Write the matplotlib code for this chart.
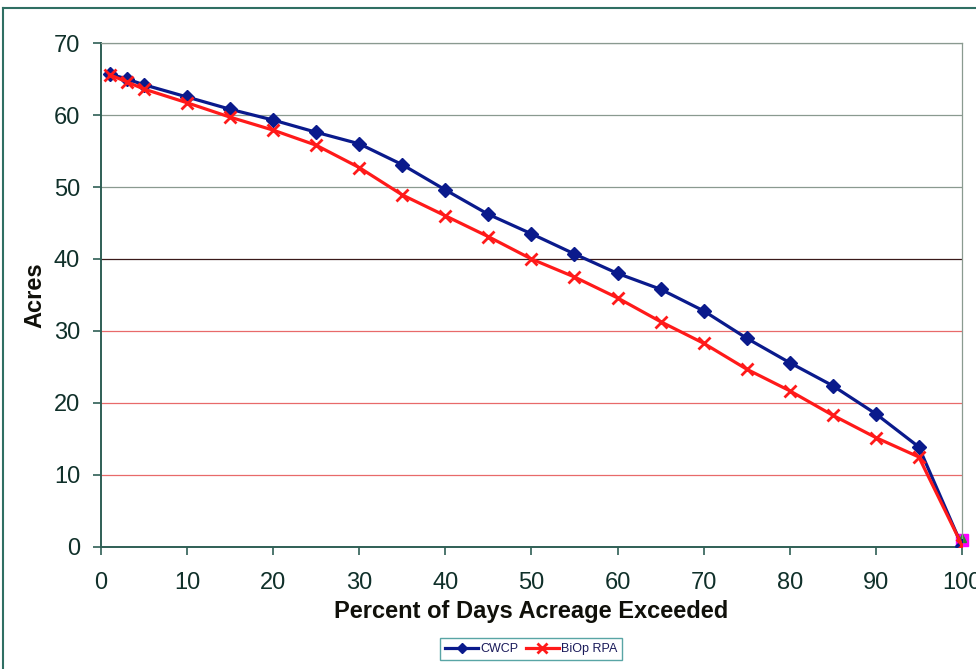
import matplotlib
matplotlib.use("Agg")
import matplotlib.pyplot as plt
from matplotlib.lines import Line2D

plt.rcParams["font.family"] = ["Liberation Sans", "DejaVu Sans"]

# ---------------------------------------------------------------------------
# Data
# ---------------------------------------------------------------------------
pct_days = [1, 3, 5, 10, 15, 20, 25, 30, 35, 40, 45, 50, 55, 60, 65, 70,
            75, 80, 85, 90, 95, 100]
cwcp = [65.7, 65.0, 64.2, 62.5, 60.8, 59.3, 57.6, 56.0, 53.1, 49.6, 46.2,
        43.5, 40.7, 38.0, 35.8, 32.8, 29.0, 25.6, 22.4, 18.5, 13.9, 0.2]
biop_rpa = [65.6, 64.6, 63.6, 61.7, 59.7, 57.9, 55.8, 52.7, 48.9, 46.0, 43.1,
            40.0, 37.5, 34.6, 31.3, 28.3, 24.7, 21.7, 18.3, 15.2, 12.5, 0.3]
extra_x = [100]
extra_sq = [1.0]
extra_tri = [1.2]

x_ticks = list(range(0, 101, 10))
y_ticks = list(range(0, 71, 10))

# ---------------------------------------------------------------------------
# Figure
# ---------------------------------------------------------------------------
fig = plt.figure(figsize=(9.76, 6.69), dpi=100)
# outer chart border (only top and left edges show in the original)
fig.lines.append(Line2D([0.003, 1.0], [0.988, 0.988], transform=fig.transFigure,
                        color="#2f6f63", linewidth=1.5))
fig.lines.append(Line2D([0.003, 0.003], [0.0, 0.988], transform=fig.transFigure,
                        color="#2f6f63", linewidth=1.5))

ax = fig.add_axes([0.1035, 0.1824, 0.882, 0.7533])

# horizontal gridlines, coloured as in the original
for y in y_ticks[1:]:
    if y > 40:
        c = "#8a9a90"
    elif y == 40:
        c = "#3a1a1a"
    else:
        c = "#e86a6a"
    ax.axhline(y, color=c, linewidth=0.9, zorder=1)

ax.plot(pct_days, cwcp, color="#0a1a8c", linewidth=2.3, marker="D",
        markersize=7, label="CWCP", zorder=3)
ax.plot(pct_days, biop_rpa, color="#ff1a1a", linewidth=2.3, marker="x",
        markersize=9, markeredgewidth=2, label="BiOp RPA", zorder=4)
ax.plot(extra_x, extra_sq, linestyle="none", marker="s", markersize=8,
        color="#ff00ff", zorder=2, clip_on=False)
ax.plot(extra_x, extra_tri, linestyle="none", marker="^", markersize=6,
        color="#2a8a2a", zorder=2, clip_on=False)

ax.set_xlim(0, 100)
ax.set_ylim(0, 70)
ax.set_xticks(x_ticks)
ax.set_yticks(y_ticks)
ax.tick_params(axis="both", labelsize=17, direction="out", length=6,
               color="#2f5f55", width=1.2, labelcolor="#10302a")
ax.tick_params(axis="x", pad=12)
ax.tick_params(axis="y", pad=9)
for side in ["left", "bottom"]:
    ax.spines[side].set_color("#2f5f55")
    ax.spines[side].set_linewidth(1.4)
for side in ["top", "right"]:
    ax.spines[side].set_color("#8a9a90")
    ax.spines[side].set_linewidth(0.9)

ax.set_xlabel("Percent of Days Acreage Exceeded", fontsize=17,
              fontweight="bold", labelpad=4, color="#10100a")
ax.set_ylabel("Acres", fontsize=17, fontweight="bold", labelpad=5,
              color="#10100a")

leg = ax.legend(loc="upper center", bbox_to_anchor=(0.5, -0.168), ncol=2,
                fontsize=9, frameon=True, fancybox=False, handlelength=2.6,
                columnspacing=0.6, borderpad=0.4, handletextpad=0.2,
                markerscale=0.8, labelcolor="#1a1a5a")
leg.get_frame().set_edgecolor("#2f8f8f")
leg.get_frame().set_linewidth(1.0)

fig.savefig("out.png", dpi=100)
